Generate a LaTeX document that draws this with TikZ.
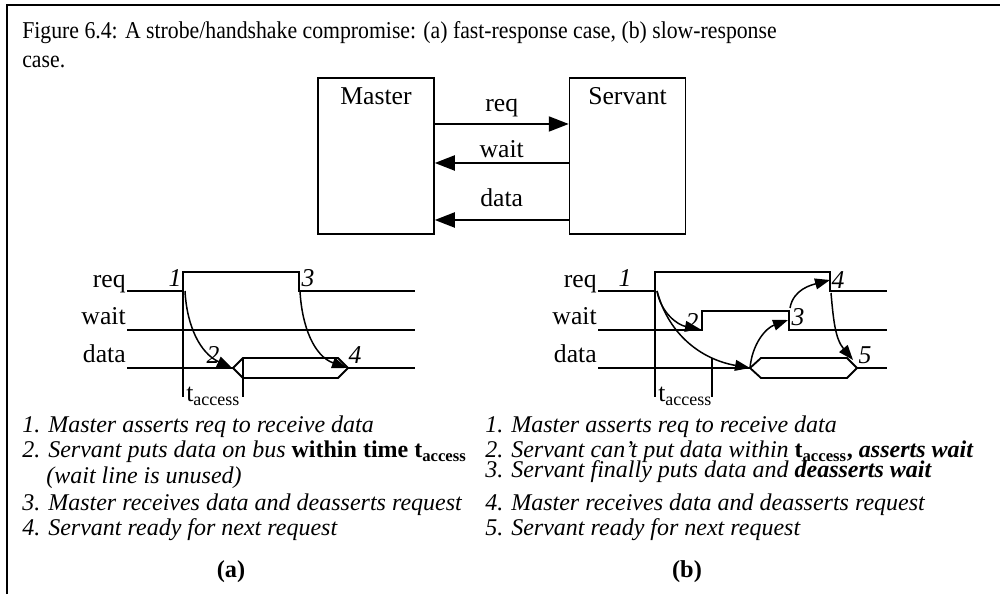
\documentclass[tikz,border=0pt]{standalone}
\usepackage{fontspec}
\setmainfont{Liberation Serif}
\newfontfamily\capfont{Liberation Serif}[FakeStretch=0.9]
\usetikzlibrary{arrows.meta, positioning}

\begin{document}
\begin{tikzpicture}[x=0.6pt, y=0.6pt,
  every node/.style={inner sep=0pt, font=\fontsize{15.4}{18}\selectfont},
  unit/.style={draw, line width=0.9pt, minimum width=69.6pt, minimum height=93.6pt},
  wire/.style={draw, line width=1.2pt, -{Triangle[length=12pt, width=9pt]}},
  sig/.style={line width=1.1pt},
  cue/.style={line width=0.9pt, -{Triangle[length=9pt, width=6.5pt]}},
  tag/.style={anchor=base east},
  num/.style={font=\fontsize{15.4}{18}\selectfont\itshape},
  item/.style={anchor=base west, font=\fontsize{14.4}{17}\selectfont\itshape}
]
\useasboundingbox (0,0) rectangle (1000,594);
\draw[line width=1.6pt] (7,0) -- (7,589) -- (1000,589);

% caption
\node[anchor=base west, font=\fontsize{14.5}{17}\capfont] (cap) at (22,555)
  {Figure 6.4: A strobe/handshake compromise: (a) fast-response case, (b) slow-response};
\node[anchor=base west, font=\fontsize{14.5}{17}\capfont] (cap2) at (22,526) {case.};

% master / servant
\node[unit] (master) at (376,438) {};
\node[unit, right=80.4pt of master] (servant) {};
\node[anchor=north] (mastername) at ([yshift=-6pt]master.north) {Master};
\node[anchor=north] (servantname) at ([yshift=-6pt]servant.north) {Servant};
\coordinate (qy) at (0,470);
\coordinate (wy) at (0,431);
\coordinate (dy) at (0,374);
\draw[wire] (master.east |- qy) -- node[anchor=base, yshift=7.2pt] (reqname) {req} (servant.west |- qy);
\draw[wire] (servant.west |- wy) -- node[anchor=base, yshift=3pt] (waitname) {wait} (master.east |- wy);
\draw[wire] (servant.west |- dy) -- node[anchor=base, yshift=7.8pt] (dataname) {data} (master.east |- dy);

% timing (a)
\node[tag] (reqa) at (126,306) {req};
\node[tag] (waita) at (126,269) {wait};
\node[tag] (dataa) at (126,231) {data};
\draw[sig] (127,303) -- (183,303) -- (183,322) -- (299,322) -- (299,303) -- (415,303);
\draw[sig] (127,264) -- (415,264);
\draw[sig] (127,226) -- (233,226);
\draw[sig] (233,226) -- (243,236) -- (338,236) -- (348,226) -- (338,216) -- (243,216) -- cycle;
\draw[sig] (348,226) -- (415,226);
\draw[sig] (183,322) -- (183,197);
\draw[sig] (243,236) -- (243,197);
\node[anchor=base west] (tacca) at (186,192) {t\textsubscript{access}};
\node[num] (n1a) at (175,316) {1};
\node[num] (n2a) at (213,239) {2};
\node[num] (n3a) at (308,316) {3};
\node[num] (n4a) at (355,239) {4};
\coordinate (a1) at (185,303);
\coordinate (a2) at (232,226);
\coordinate (a3) at (300,303);
\coordinate (a4) at (347,226);
\draw[cue] (a1) to[out=-87, in=155] (a2);
\draw[cue] (a3) to[out=-87, in=160] (a4);

% timing (b)
\node[tag] (reqb) at (597,306) {req};
\node[tag] (waitb) at (597,269) {wait};
\node[tag] (datab) at (597,231) {data};
\draw[sig] (598,303) -- (655,303) -- (655,322) -- (830,322) -- (830,303) -- (887,303);
\draw[sig] (598,264) -- (702,264) -- (702,283) -- (789,283) -- (789,264) -- (887,264);
\draw[sig] (598,226) -- (750,226);
\draw[sig] (750,226) -- (761,236) -- (847,236) -- (857,226) -- (847,216) -- (761,216) -- cycle;
\draw[sig] (857,226) -- (887,226);
\draw[sig] (655,322) -- (655,197);
\draw[sig] (712,236) -- (712,197);
\node[anchor=base west] (taccb) at (658,192) {t\textsubscript{access}};
\node[num] (n1b) at (625,316) {1};
\node[num] (n2b) at (692,272) {2};
\node[num] (n3b) at (798,277) {3};
\node[num] (n4b) at (838,314) {4};
\node[num] (n5b) at (865,239) {5};
\coordinate (b1) at (657,303);
\coordinate (b2) at (700,265);
\coordinate (b3) at (750,226);
\coordinate (b4) at (788,274);
\coordinate (b5) at (790,286);
\coordinate (b6) at (830,314);
\coordinate (b7) at (831,301);
\coordinate (b8) at (853,234);
\draw[cue] (b1) to[out=-80, in=170] (b2);
\draw[cue] (b1) to[out=-75, in=170] (b3);
\draw[cue] (b3) to[out=85, in=200] (b4);
\draw[cue] (b5) to[out=80, in=195] (b6);
\draw[cue] (b7) to[out=-85, in=130] (b8);

% steps (a)
\node[item] (sa1) at (22,161) {1. Master asserts req to receive data};
\node[item] (sa2) at (22,136) {2. Servant puts data on bus \textbf{\upshape within time t\textsubscript{access}}};
\node[item] (sa3) at (22,110) {\phantom{2.} (wait line is unused)};
\node[item] (sa4) at (22,83) {3. Master receives data and deasserts request};
\node[item] (sa5) at (22,58) {4. Servant ready for next request};
\node[anchor=base, font=\fontsize{14.6}{17}\selectfont\bfseries] (capa) at (231,17) {(a)};

% steps (b)
\node[item] (sb1) at (485,161) {1. Master asserts req to receive data};
\node[item] (sb2) at (485,136) {2. Servant can't put data within \textbf{\upshape t\textsubscript{access},} \textbf{asserts wait}};
\node[item] (sb3) at (485,116) {3. Servant finally puts data and \textbf{deasserts wait}};
\node[item] (sb4) at (485,83) {4. Master receives data and deasserts request};
\node[item] (sb5) at (485,58) {5. Servant ready for next request};
\node[anchor=base, font=\fontsize{14.6}{17}\selectfont\bfseries] (capb) at (687,17) {(b)};
\end{tikzpicture}
\end{document}
